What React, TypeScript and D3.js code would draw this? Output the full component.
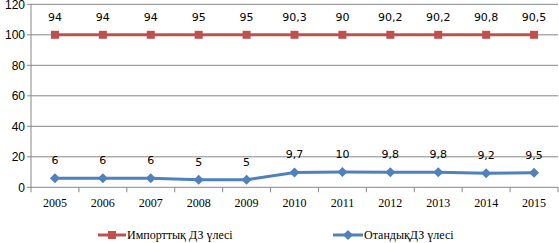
import React from "react";
import * as d3 from "d3";

const years = ["2005","2006","2007","2008","2009","2010","2011","2012","2013","2014","2015"];
const importPos = [100,100,100,100,100,100,100,100,100,100,100];
const importLabels = ["94","94","94","95","95","90,3","90","90,2","90,2","90,8","90,5"];
const domestic = [6,6,6,5,5,9.7,10,9.8,9.8,9.2,9.5];
const domesticLabels = ["6","6","6","5","5","9,7","10","9,8","9,8","9,2","9,5"];
const yTicks = [0,20,40,60,80,100,120];

export default function App() {
  const W = 559, H = 243;
  const left = 31, right = 558, top = 4.3, bottom = 187.3;
  const x = d3.scaleBand<string>().domain(years).range([left, right]);
  const y = d3.scaleLinear().domain([0, 120]).range([bottom, top]);
  const cx = (i: number) => (x(years[i]) as number) + x.bandwidth() / 2;
  const line = d3.line<number>().x((_, i) => cx(i)).y(d => y(d));
  const red = "#C0504D", blue = "#4F81BD";
  const grid = "#868686";
  return (
    <svg width={W} height={H} style={{ position: "absolute", left: 0, top: 0 }}>
      <rect width={W} height={H} fill="#fff" />
      {yTicks.map(t => (
        <g key={t}>
          <line x1={left} x2={right} y1={y(t)} y2={y(t)} stroke={grid} strokeWidth={1} />
          <line x1={left - 4} x2={left} y1={y(t)} y2={y(t)} stroke={grid} />
          <text x={left - 6} y={y(t)} dy="0.35em" textAnchor="end" fontFamily="Liberation Sans, Arial" fontSize={12} fill="#000">{t}</text>
        </g>
      ))}
      <line x1={left} x2={left} y1={top} y2={bottom} stroke={grid} />
      {years.map((yr, i) => (
        <line key={yr} x1={x(yr) as number} x2={x(yr) as number} y1={bottom} y2={bottom + 5} stroke={grid} />
      ))}
      <line x1={right} x2={right} y1={bottom} y2={bottom + 5} stroke={grid} />
      {years.map((yr, i) => (
        <text key={yr} x={cx(i)} y={207} textAnchor="middle" fontFamily="Liberation Serif, Times New Roman" fontSize={12} fill="#000">{yr}</text>
      ))}
      <path d={line(importPos) || ""} fill="none" stroke={red} strokeWidth={3} />
      {importPos.map((v, i) => (
        <rect key={i} x={cx(i) - 4} y={y(v) - 4} width={8} height={8} fill={red} />
      ))}
      {importLabels.map((l, i) => (
        <text key={i} x={cx(i)} y={y(importPos[i]) - 17.5} dy="0.35em" textAnchor="middle" fontFamily="DejaVu Sans, Verdana" fontSize={11} fill="#000">{l}</text>
      ))}
      <path d={line(domestic) || ""} fill="none" stroke={blue} strokeWidth={3} />
      {domestic.map((v, i) => (
        <path key={i} d={`M${cx(i)},${y(v) - 5}L${cx(i) + 5},${y(v)}L${cx(i)},${y(v) + 5}L${cx(i) - 5},${y(v)}Z`} fill={blue} />
      ))}
      {domesticLabels.map((l, i) => (
        <text key={i} x={cx(i)} y={y(domestic[i]) - 18} dy="0.35em" textAnchor="middle" fontFamily="DejaVu Sans, Verdana" fontSize={11} fill="#000">{l}</text>
      ))}
      <g>
        <line x1={98} x2={126} y1={235} y2={235} stroke={red} strokeWidth={3} />
        <rect x={108} y={231} width={8} height={8} fill={red} />
        <text x={127} y={235} dy="0.35em" fontFamily="Liberation Serif, Times New Roman" fontSize={12} fill="#000">Импорттық ДЗ үлесі</text>
      </g>
      <g>
        <line x1={333} x2={363} y1={235} y2={235} stroke={blue} strokeWidth={3} />
        <path d={`M348,230L353,235L348,240L343,235Z`} fill={blue} />
        <text x={364} y={235} dy="0.35em" fontFamily="Liberation Serif, Times New Roman" fontSize={12} fill="#000">ОтандықДЗ үлесі</text>
      </g>
    </svg>
  );
}
